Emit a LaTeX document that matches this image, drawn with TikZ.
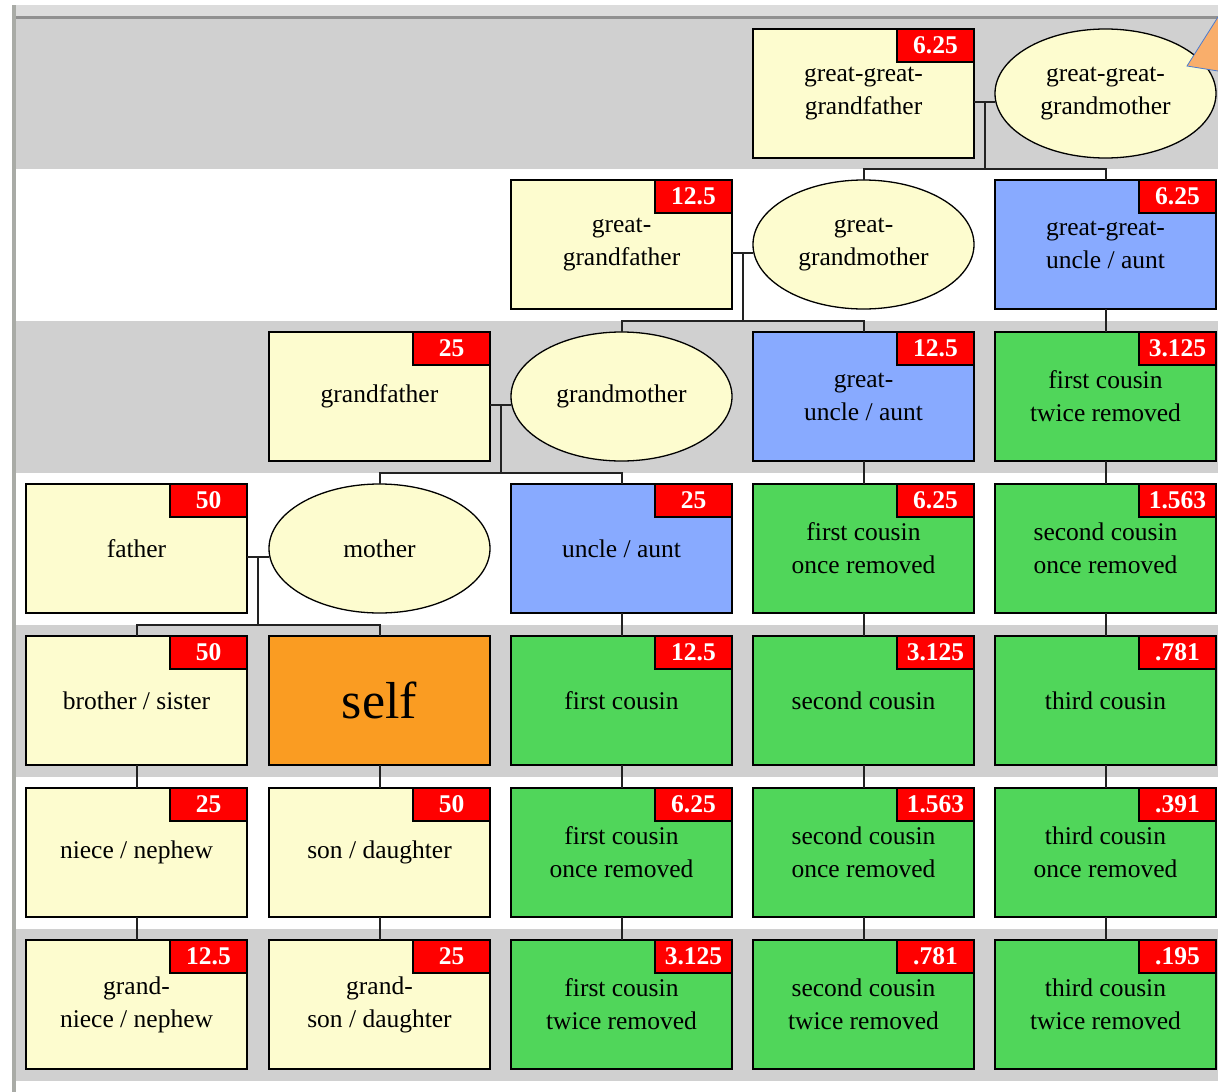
\documentclass[tikz,border=0pt]{standalone}
\usepackage{fontspec}
\setmainfont{Liberation Serif}[Ligatures=TeX]
\newfontfamily\tnr{Liberation Serif}
\usetikzlibrary{shapes.geometric,calc}
\definecolor{bandgray}{HTML}{D0D0D0}
\definecolor{topgray}{HTML}{DCDCDC}
\definecolor{rulegray}{HTML}{909090}
\definecolor{leftgray}{HTML}{A9ABA6}
\definecolor{cream}{HTML}{FDFCCF}
\definecolor{bluebox}{HTML}{88AAFF}
\definecolor{greenbox}{HTML}{50D65A}
\definecolor{selforange}{HTML}{FA9C22}
\definecolor{badgered}{HTML}{FF0000}
\definecolor{linkgray}{HTML}{222222}
\definecolor{triorange}{HTML}{F9AE6B}
\definecolor{triblue}{HTML}{4A7BD0}
\tikzset{
  person/.style={draw=black, line width=1.3pt, minimum width=221pt, minimum height=129pt,
    inner sep=0pt, outer sep=0pt, align=center, font=\tnr\fontsize{25.5}{33}\selectfont, text=black},
  man/.style={person, rectangle, fill=cream},
  woman/.style={person, ellipse, fill=cream},
  blood/.style={person, rectangle, fill=bluebox},
  cousin/.style={person, rectangle, fill=greenbox},
  me/.style={person, rectangle, fill=selforange, font=\tnr\fontsize{52}{60}\selectfont},
  badge/.style={draw=black, line width=1.3pt, fill=badgered, minimum width=77pt, minimum height=33pt,
    inner sep=0pt, outer sep=0pt, anchor=north east, text=white, font=\tnr\fontsize{25.5}{25}\selectfont\bfseries},
  link/.style={draw=linkgray, line width=2pt}
}
\begin{document}
\begin{tikzpicture}[x=1pt,y=-1pt]
\useasboundingbox (0,0) rectangle (1218,1092);
% background
\fill[white] (0,0) rectangle (1218,1092);
\fill[topgray] (16,5) rectangle (1218,16);
\fill[rulegray] (16,16) rectangle (1218,18.5);
\fill[bandgray] (16,18.5) rectangle (1218,169);
\fill[bandgray] (16,321) rectangle (1218,473);
\fill[bandgray] (16,625) rectangle (1218,777);
\fill[bandgray] (16,929) rectangle (1218,1081);
\fill[leftgray] (12,5) rectangle (16,1092);
% row 1
\node[man] (ggf) at (863.5,93.5) {great-great-\\grandfather};
\node[woman] (ggm) at (1105.5,93.5) {great-great-\\grandmother};
% orange triangle
\filldraw[fill=triorange, draw=triblue, line width=0.8pt] (1218,17) -- (1187,66) -- (1218,71);
% row 2
\node[man] (gf2) at (621.5,244.5) {great-\\grandfather};
\node[woman] (gm2) at (863.5,244.5) {great-\\grandmother};
\node[blood] (ggu) at (1105.5,244.5) {great-great-\\uncle / aunt};
% row 3
\node[man] (gf) at (379.5,396.5) {grandfather};
\node[woman] (gm) at (621.5,396.5) {grandmother};
\node[blood] (gu) at (863.5,396.5) {great-\\uncle / aunt};
\node[cousin] (c1r2a) at (1105.5,396.5) {first cousin\\twice removed};
% row 4
\node[man] (fa) at (136.5,548.5) {father};
\node[woman] (mo) at (379.5,548.5) {mother};
\node[blood] (ua) at (621.5,548.5) {uncle / aunt};
\node[cousin] (c1r1a) at (863.5,548.5) {first cousin\\once removed};
\node[cousin] (c2r1a) at (1105.5,548.5) {second cousin\\once removed};
% row 5
\node[man] (bs) at (136.5,700.5) {brother / sister};
\node[me] (self) at (379.5,700.5) {self};
\node[cousin] (c1) at (621.5,700.5) {first cousin};
\node[cousin] (c2) at (863.5,700.5) {second cousin};
\node[cousin] (c3) at (1105.5,700.5) {third cousin};
% row 6
\node[man] (nn) at (136.5,852.5) {niece / nephew};
\node[man] (sd) at (379.5,852.5) {son / daughter};
\node[cousin] (c1r1b) at (621.5,852.5) {first cousin\\once removed};
\node[cousin] (c2r1b) at (863.5,852.5) {second cousin\\once removed};
\node[cousin] (c3r1b) at (1105.5,852.5) {third cousin\\once removed};
% row 7
\node[man] (gnn) at (136.5,1004.5) {grand-\\niece / nephew};
\node[man] (gsd) at (379.5,1004.5) {grand-\\son / daughter};
\node[cousin] (c1r2b) at (621.5,1004.5) {first cousin\\twice removed};
\node[cousin] (c2r2b) at (863.5,1004.5) {second cousin\\twice removed};
\node[cousin] (c3r2b) at (1105.5,1004.5) {third cousin\\twice removed};
% badges
\node[badge] (b1) at (ggf.north east) {6.25};
\node[badge] (b2) at (gf2.north east) {12.5};
\node[badge] (b3) at (ggu.north east) {6.25};
\node[badge] (b4) at (gf.north east) {25};
\node[badge] (b5) at (gu.north east) {12.5};
\node[badge] (b6) at (c1r2a.north east) {3.125};
\node[badge] (b7) at (fa.north east) {50};
\node[badge] (b8) at (ua.north east) {25};
\node[badge] (b9) at (c1r1a.north east) {6.25};
\node[badge] (b10) at (c2r1a.north east) {1.563};
\node[badge] (b11) at (bs.north east) {50};
\node[badge] (b12) at (c1.north east) {12.5};
\node[badge] (b13) at (c2.north east) {3.125};
\node[badge] (b14) at (c3.north east) {.781};
\node[badge] (b15) at (nn.north east) {25};
\node[badge] (b16) at (sd.north east) {50};
\node[badge] (b17) at (c1r1b.north east) {6.25};
\node[badge] (b18) at (c2r1b.north east) {1.563};
\node[badge] (b19) at (c3r1b.north east) {.391};
\node[badge] (b20) at (gnn.north east) {12.5};
\node[badge] (b21) at (gsd.north east) {25};
\node[badge] (b22) at (c1r2b.north east) {3.125};
\node[badge] (b23) at (c2r2b.north east) {.781};
\node[badge] (b24) at (c3r2b.north east) {.195};
% couple junctions
\coordinate (j1) at ($(ggf.east)!0.5!(ggm.west)+(0,8)$);
\coordinate (j2) at ($(gf2.east)!0.5!(gm2.west)+(0,8)$);
\coordinate (j3) at ($(gf.east)!0.5!(gm.west)+(0,8)$);
\coordinate (j4) at ($(fa.east)!0.5!(mo.west)+(0,8)$);
\coordinate (k1) at ($(gm2.north)+(0,-11)$);
\coordinate (k1b) at ($(ggu.north)+(0,-11)$);
\coordinate (k2) at ($(gm.north)+(0,-11)$);
\coordinate (k2b) at ($(gu.north)+(0,-11)$);
\coordinate (k3) at ($(mo.north)+(0,-11)$);
\coordinate (k3b) at ($(ua.north)+(0,-11)$);
\coordinate (k4) at ($(bs.north)+(0,-11)$);
\coordinate (k4b) at ($(self.north)+(0,-11)$);
\draw[link] ($(ggf.east)+(0,8)$) -- ($(ggm.west)+(0,8)$);
\draw[link] ($(gf2.east)+(0,8)$) -- ($(gm2.west)+(0,8)$);
\draw[link] ($(gf.east)+(0,8)$) -- ($(gm.west)+(0,8)$);
\draw[link] ($(fa.east)+(0,8)$) -- ($(mo.west)+(0,8)$);
\draw[link] (j1) -- (j1 |- k1);
\draw[link] (j2) -- (j2 |- k2);
\draw[link] (j3) -- (j3 |- k3);
\draw[link] (j4) -- (j4 |- k4);
\draw[link] (gm2.north) -- (k1) -- (k1b) -- (ggu.north);
\draw[link] (gm.north) -- (k2) -- (k2b) -- (gu.north);
\draw[link] (mo.north) -- (k3) -- (k3b) -- (ua.north);
\draw[link] (bs.north) -- (k4) -- (k4b) -- (self.north);
% descent lines
\draw[link] (ggu.south) -- (c1r2a.north);
\draw[link] (c1r2a.south) -- (c2r1a.north);
\draw[link] (c2r1a.south) -- (c3.north);
\draw[link] (c3.south) -- (c3r1b.north);
\draw[link] (c3r1b.south) -- (c3r2b.north);
\draw[link] (gu.south) -- (c1r1a.north);
\draw[link] (c1r1a.south) -- (c2.north);
\draw[link] (c2.south) -- (c2r1b.north);
\draw[link] (c2r1b.south) -- (c2r2b.north);
\draw[link] (ua.south) -- (c1.north);
\draw[link] (c1.south) -- (c1r1b.north);
\draw[link] (c1r1b.south) -- (c1r2b.north);
\draw[link] (bs.south) -- (nn.north);
\draw[link] (nn.south) -- (gnn.north);
\draw[link] (self.south) -- (sd.north);
\draw[link] (sd.south) -- (gsd.north);
\end{tikzpicture}
\end{document}
